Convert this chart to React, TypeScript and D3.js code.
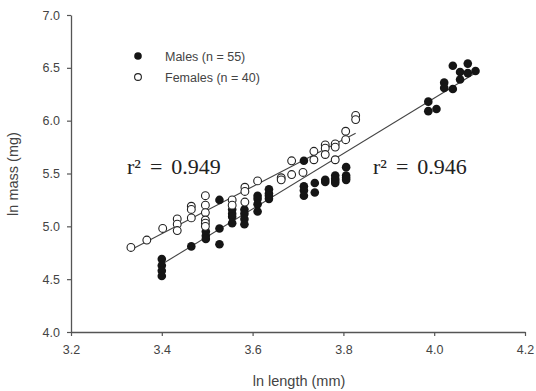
import React, { useEffect, useRef } from 'react'
import * as d3 from 'd3'

// males: [ln length, ln mass]
const males: [number, number][] = [
  [3.40, 4.69], [3.40, 4.63], [3.40, 4.58], [3.40, 4.53],
  [3.465, 4.81],
  [3.497, 4.95], [3.497, 4.91], [3.497, 4.88],
  [3.527, 5.25], [3.527, 4.98], [3.527, 4.83],
  [3.555, 5.16], [3.555, 5.12], [3.555, 5.09], [3.555, 5.03],
  [3.582, 5.16], [3.582, 5.12], [3.582, 5.07], [3.582, 5.02],
  [3.611, 5.29], [3.611, 5.26], [3.611, 5.21], [3.611, 5.14],
  [3.636, 5.35], [3.636, 5.31], [3.636, 5.29], [3.636, 5.26],
  [3.713, 5.62], [3.713, 5.38], [3.713, 5.34], [3.713, 5.29],
  [3.737, 5.41], [3.737, 5.32],
  [3.760, 5.44], [3.760, 5.42],
  [3.782, 5.48], [3.782, 5.45], [3.782, 5.43], [3.782, 5.41],
  [3.806, 5.56], [3.806, 5.48], [3.806, 5.46], [3.806, 5.44],
  [3.987, 6.18], [3.987, 6.09],
  [4.005, 6.11],
  [4.022, 6.36], [4.022, 6.31],
  [4.041, 6.52], [4.041, 6.30],
  [4.057, 6.46], [4.057, 6.39],
  [4.074, 6.54], [4.074, 6.45],
  [4.091, 6.47],
]

const females: [number, number][] = [
  [3.332, 4.80],
  [3.367, 4.87],
  [3.402, 4.98],
  [3.434, 5.07], [3.434, 5.02], [3.434, 4.96],
  [3.465, 5.19], [3.465, 5.16], [3.465, 5.08],
  [3.496, 5.29], [3.496, 5.20], [3.496, 5.13], [3.496, 5.06], [3.496, 5.03], [3.496, 5.00],
  [3.555, 5.25], [3.555, 5.20],
  [3.583, 5.37], [3.583, 5.33], [3.583, 5.23],
  [3.611, 5.43],
  [3.663, 5.46], [3.663, 5.44],
  [3.686, 5.62], [3.686, 5.49],
  [3.711, 5.51],
  [3.735, 5.71], [3.735, 5.63],
  [3.760, 5.77], [3.760, 5.74], [3.760, 5.68],
  [3.782, 5.78], [3.782, 5.75], [3.782, 5.63],
  [3.805, 5.90], [3.805, 5.82],
  [3.827, 6.05], [3.827, 6.01],
]

// fitted lines: [slope, intercept, xmin, xmax]
const maleFit = [2.62, -4.267, 3.40, 4.088]
const femaleFit = [2.23, -2.653, 3.332, 3.827]

const xTicks = [3.2, 3.4, 3.6, 3.8, 4.0, 4.2]
const yTicks = [4.0, 4.5, 5.0, 5.5, 6.0, 6.5, 7.0]

export default function App() {
  const svgRef = useRef<SVGSVGElement>(null)

  useEffect(() => {
    const svg = d3.select(svgRef.current)
    svg.selectAll('*').remove()

    const x = d3.scaleLinear().domain([3.2, 4.2]).range([71, 525])
    const y = d3.scaleLinear().domain([4.0, 7.0]).range([332, 15])

    const axisColor = '#555'
    const font = 'Arial, "Liberation Sans", sans-serif'

    // axes
    const gx = svg.append('g')
      .attr('transform', 'translate(0,332)')
      .call(d3.axisBottom(x).tickValues(xTicks).tickFormat(d3.format('.1f')).tickSize(4).tickSizeOuter(0))
    const gy = svg.append('g')
      .attr('transform', 'translate(71,0)')
      .call(d3.axisLeft(y).tickValues(yTicks).tickFormat(d3.format('.1f')).tickSize(4).tickSizeOuter(0))
    for (const g of [gx, gy]) {
      g.select('.domain').attr('stroke', axisColor).attr('stroke-width', 1.3)
      g.selectAll('.tick line').attr('stroke', axisColor).attr('stroke-width', 1.2)
      g.selectAll('.tick text').attr('fill', '#444').attr('font-size', 12.5).attr('font-family', font)
    }
    gx.selectAll('.tick text').attr('y', 22).attr('dy', 0)
    gy.selectAll('.tick text').attr('x', -11)

    svg.append('text')
      .attr('x', 299).attr('y', 386)
      .attr('text-anchor', 'middle')
      .attr('font-family', font).attr('font-size', 14.5).attr('fill', '#444')
      .text('ln length (mm)')
    svg.append('text')
      .attr('transform', 'translate(18,174) rotate(-90)')
      .attr('text-anchor', 'middle')
      .attr('font-family', font).attr('font-size', 14.5).attr('fill', '#444')
      .text('ln mass (mg)')

    // regression lines
    const line = d3.line<number>().x(d => x(d))
    for (const f of [maleFit, femaleFit]) {
      svg.append('path')
        .datum([f[2], f[3]])
        .attr('d', line.y(d => y(f[0] * d + f[1])))
        .attr('fill', 'none').attr('stroke', '#444').attr('stroke-width', 1.1)
    }

    // points
    svg.append('g').selectAll('circle').data(males).join('circle')
      .attr('cx', d => x(d[0])).attr('cy', d => y(d[1])).attr('r', 4.3)
      .attr('fill', '#151515')
    svg.append('g').selectAll('circle').data(females).join('circle')
      .attr('cx', d => x(d[0])).attr('cy', d => y(d[1])).attr('r', 3.9)
      .attr('fill', '#fff').attr('stroke', '#222').attr('stroke-width', 1.1)

    // legend
    svg.append('circle').attr('cx', 138).attr('cy', 56).attr('r', 3.8).attr('fill', '#151515')
    svg.append('circle').attr('cx', 138).attr('cy', 77).attr('r', 3.4)
      .attr('fill', '#fff').attr('stroke', '#222').attr('stroke-width', 1.1)
    svg.append('text').attr('x', 165).attr('y', 61)
      .attr('font-family', font).attr('font-size', 12.5).attr('fill', '#444')
      .text('Males (n = 55)')
    svg.append('text').attr('x', 165).attr('y', 82)
      .attr('font-family', font).attr('font-size', 12.5).attr('fill', '#444')
      .text('Females (n = 40)')

    // r² annotations
    const serif = '"Liberation Serif", "Times New Roman", serif'
    svg.append('text').attr('x', 127).attr('y', 174)
      .attr('font-family', serif).attr('font-size', 22).attr('fill', '#222')
      .attr('word-spacing', 3.5)
      .text('r² = 0.949')
    svg.append('text').attr('x', 373).attr('y', 174)
      .attr('font-family', serif).attr('font-size', 22).attr('fill', '#222')
      .attr('word-spacing', 3.5)
      .text('r² = 0.946')
  }, [])

  return (
    <div style={{ position: 'fixed', left: 0, top: 0 }}>
      <svg ref={svgRef} width={536} height={391} style={{ display: 'block', background: '#fff' }} />
    </div>
  )
}
